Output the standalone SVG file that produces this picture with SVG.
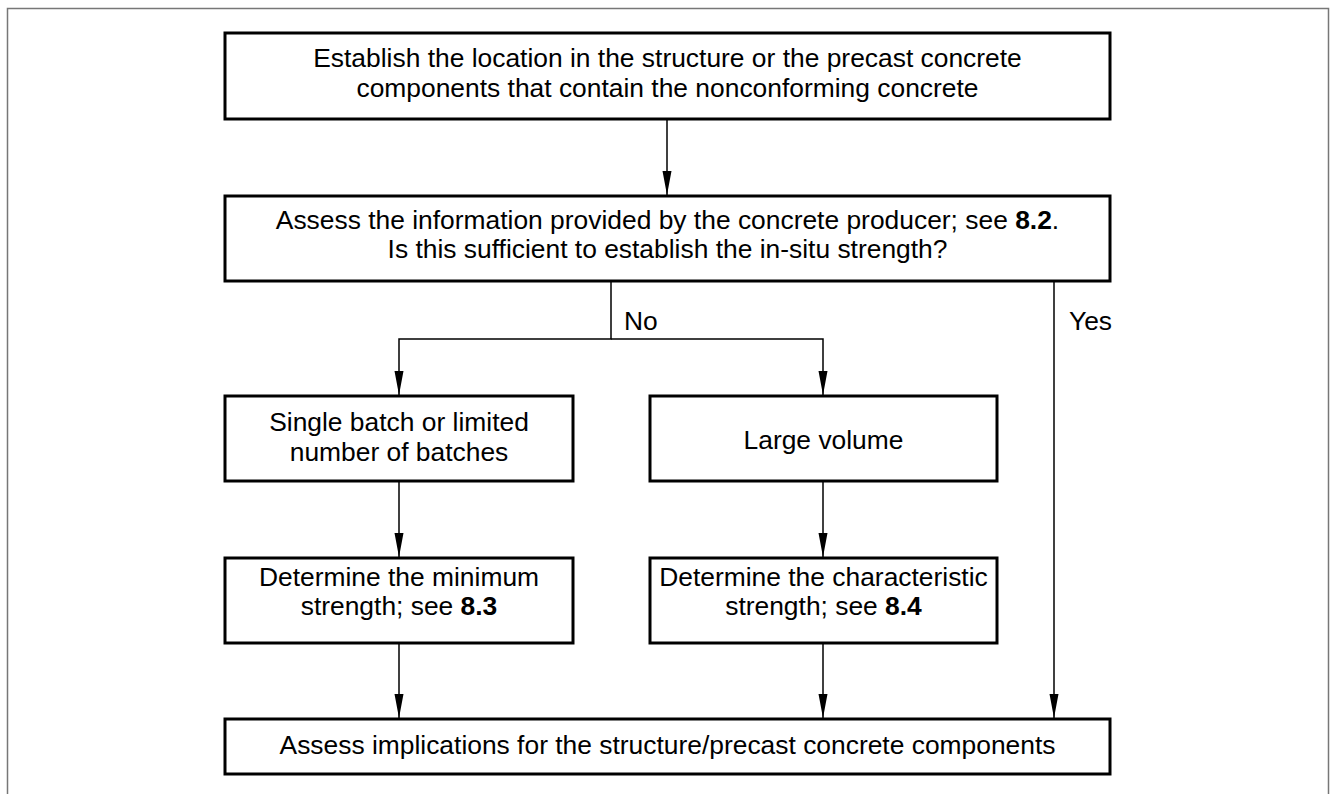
<svg xmlns="http://www.w3.org/2000/svg" width="1333" height="794" viewBox="0 0 1333 794">
<style>
.box{fill:#fff;stroke:#000;stroke-width:3}
.t{font-family:"Liberation Sans",Arial,sans-serif;font-size:26.4px;fill:#000;text-anchor:middle}
.lbl{font-family:"Liberation Sans",Arial,sans-serif;font-size:26.4px;fill:#000}
.c{fill:none;stroke:#000;stroke-width:1.5}
.b{font-weight:bold}
</style>
<defs>
<marker id="ah" markerUnits="userSpaceOnUse" markerWidth="26" markerHeight="12" refX="24" refY="5" orient="auto">
<path d="M0,0.5 L24,5 L0,9.5 z" fill="#000"/>
</marker>
</defs>
<rect width="1333" height="794" fill="#fff"/>
<path d="M7.5,800 V8.5 H1328.5 V800" fill="none" stroke="#777" stroke-width="1.5"/>
<g id="connectors">
<path class="c" d="M667,119 V195" marker-end="url(#ah)"/>
<path class="c" d="M611,281 V339 H399 V395" marker-end="url(#ah)"/>
<path class="c" d="M611,339 H823 V395" marker-end="url(#ah)"/>
<path class="c" d="M1054,281 V718" marker-end="url(#ah)"/>
<path class="c" d="M399,481 V557" marker-end="url(#ah)"/>
<path class="c" d="M823,481 V557" marker-end="url(#ah)"/>
<path class="c" d="M399,643 V718" marker-end="url(#ah)"/>
<path class="c" d="M823,643 V718" marker-end="url(#ah)"/>
<text class="lbl" x="624" y="330">No</text>
<text class="lbl" x="1069" y="330">Yes</text>
</g>
<g id="n1">
<rect class="box" x="225" y="33" width="885" height="86"/>
<text class="t" x="667.5" y="67">Establish the location in the structure or the precast concrete</text>
<text class="t" x="667.5" y="97">components that contain the nonconforming concrete</text>
</g>
<g id="n2">
<rect class="box" x="225" y="196" width="885" height="85"/>
<text class="t" x="667.5" y="229">Assess the information provided by the concrete producer; see <tspan class="b">8.2</tspan>.</text>
<text class="t" x="667.5" y="258">Is this sufficient to establish the in-situ strength?</text>
</g>
<g id="n3">
<rect class="box" x="225" y="396" width="348" height="85"/>
<text class="t" x="399" y="431">Single batch or limited</text>
<text class="t" x="399" y="461">number of batches</text>
</g>
<g id="n4">
<rect class="box" x="650" y="396" width="347" height="85"/>
<text class="t" x="823.5" y="449">Large volume</text>
</g>
<g id="n5">
<rect class="box" x="225" y="558" width="348" height="85"/>
<text class="t" x="399" y="586">Determine the minimum</text>
<text class="t" x="399" y="615">strength; see <tspan class="b">8.3</tspan></text>
</g>
<g id="n6">
<rect class="box" x="650" y="558" width="347" height="85"/>
<text class="t" x="823.5" y="586">Determine the characteristic</text>
<text class="t" x="823.5" y="615">strength; see <tspan class="b">8.4</tspan></text>
</g>
<g id="n7">
<rect class="box" x="225" y="719" width="885" height="55"/>
<text class="t" x="667.5" y="754">Assess implications for the structure/precast concrete components</text>
</g>
</svg>
